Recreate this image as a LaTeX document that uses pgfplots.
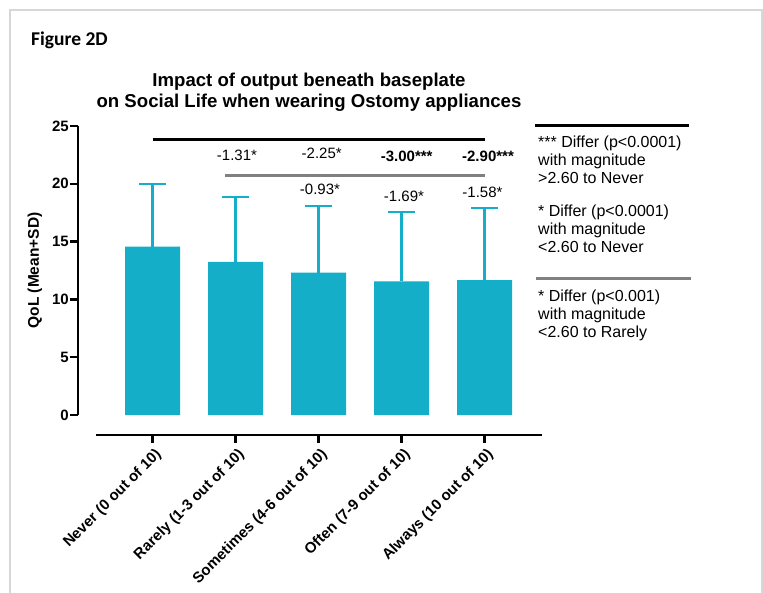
\documentclass[border=0pt]{standalone}
\usepackage{pgfplots}
\pgfplotsset{compat=1.18}
\usepackage{fontspec}
\setmainfont{Liberation Sans}
\newfontfamily\carlito{Carlito}
\definecolor{barc}{RGB}{20,174,201}
\definecolor{sigg}{RGB}{128,128,128}
\definecolor{framec}{RGB}{215,215,215}
\newcommand{\fs}[1]{\fontsize{#1}{#1}\selectfont}
\begin{document}
\begin{tikzpicture}
\begin{scope}[x=1pt,y=-1pt]
\path[use as bounding box] (0,0) rectangle (763,593);
\draw[framec, line width=1.5pt] (10,593) -- (10,10) -- (762,10) -- (762,593);
\node[anchor=base west, font=\carlito\bfseries\fs{19.5}, inner sep=0] at (31,45.7) {Figure 2D};
\node[anchor=base, font=\bfseries\fs{18.6}, inner sep=0] at (309,87) {Impact of output beneath baseplate};
\node[anchor=base, font=\bfseries\fs{18.6}, inner sep=0] at (309,108) {on Social Life when wearing Ostomy appliances};
\end{scope}

\begin{axis}[
  at={(78pt,-415pt)}, anchor=south west,
  x=83pt, y=11.56pt,
  xmin=-0.898, xmax=4.693, ymin=0, ymax=25,
  axis x line=none, axis y line=left,
  axis line style={-, line width=2.5pt, black},
  ytick={0,5,...,25},
  tick align=outside,
  major tick length=8pt,
  every tick/.style={black, line width=2.5pt},
  yticklabel style={font=\bfseries\fs{15}, inner sep=1pt},
  /pgf/number format/assume math mode=true,
  ylabel={QoL (Mean+SD)},
  ylabel style={font=\bfseries\fs{15.5}, at={(axis description cs:-0.0927,0.5)}, anchor=center},
  clip=false,
]
\addplot[ybar, bar width=55pt, fill=barc, draw=none,
  error bars/.cd, y dir=plus, y explicit,
  error bar style={barc, line width=2.2pt},
  error mark options={barc, line width=2.2pt, mark size=13.5pt, rotate=90}]
coordinates {(0,14.56) +- (0,5.40) (1,13.25) +- (0,5.58) (2,12.31) +- (0,5.79) (3,11.56) +- (0,6.00) (4,11.66) +- (0,6.22)};
\addplot[black, line width=3pt] coordinates {(0,23.8) (4,23.8)};
\addplot[sigg, line width=3pt] coordinates {(0.873,20.7) (4,20.7)};
\end{axis}

\begin{axis}[
  at={(96pt,-435pt)}, anchor=south west,
  x=83pt, y=1pt,
  xmin=-0.681, xmax=4.693, ymin=0, ymax=1,
  axis x line=bottom, axis y line=none,
  axis line style={-, line width=2.5pt, black},
  xtick={0,1,2,3,4},
  xticklabels={Never (0 out of 10),Rarely (1-3 out of 10),Sometimes (4-6 out of 10),Often (7-9 out of 10),Always (10 out of 10)},
  tick align=outside, major tick length=8pt,
  every tick/.style={black, line width=2.5pt},
  xticklabel style={rotate=45, anchor=north east, font=\bfseries\fs{15}, inner sep=1pt, xshift=-1pt, yshift=-3pt},
]
\addplot[draw=none] coordinates {(0,0)};
\end{axis}

\begin{scope}[x=1pt,y=-1pt]
\node[font=\fs{15}] at (237,155.3) {-1.31*};
\node[font=\fs{15}] at (321.7,153.5) {-2.25*};
\node[font=\bfseries\fs{15}] at (406.7,156) {-3.00***};
\node[font=\bfseries\fs{15}] at (488,156) {-2.90***};
\node[font=\fs{15}] at (320,189.5) {-0.93*};
\node[font=\fs{15}] at (404,196) {-1.69*};
\node[font=\fs{15}] at (482.5,192.5) {-1.58*};

\draw[black, line width=3pt] (535,126) -- (689,126);
\draw[sigg, line width=3pt] (536,279) -- (691,279);
\begin{scope}[every node/.style={anchor=base west, font=\fs{16}, inner sep=0}]
\node at (538,148) {*** Differ (p<0.0001)};
\node at (538,166) {with magnitude};
\node at (538,184) {>2.60 to Never};
\node at (538,217) {* Differ (p<0.0001)};
\node at (538,235) {with magnitude};
\node at (538,253) {<2.60 to Never};
\node at (538,302) {* Differ (p<0.001)};
\node at (538,320) {with magnitude};
\node at (538,338) {<2.60 to Rarely};
\end{scope}
\end{scope}
\end{tikzpicture}
\end{document}
